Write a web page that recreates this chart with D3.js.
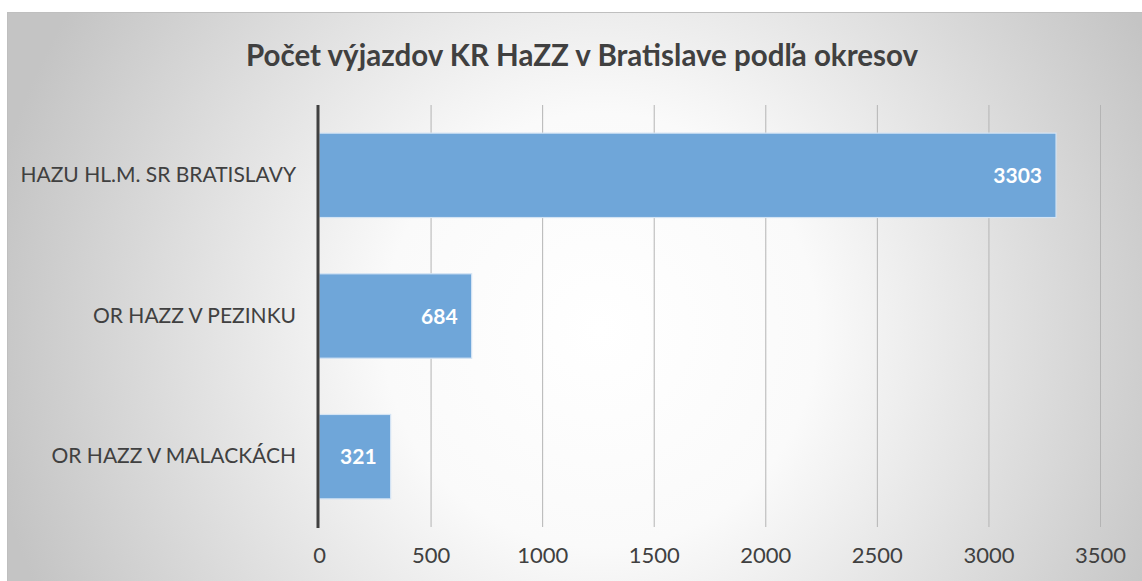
<!DOCTYPE html>
<html><head><meta charset="utf-8">
<script src="https://cdn.jsdelivr.net/npm/d3@7"></script>
<style>body{margin:0;background:#fff;}svg{display:block;}</style>
</head><body>
<svg id="c" width="1142" height="581"></svg>
<script>
const categories = ["HAZU HL.M. SR BRATISLAVY", "OR HAZZ V PEZINKU", "OR HAZZ V MALACKÁCH"];
const values = [3303, 684, 321];
const ticks = [0, 500, 1000, 1500, 2000, 2500, 3000, 3500];
const title = "Počet výjazdov KR HaZZ v Bratislave podľa okresov";

const svg = d3.select("#c");
const W = 1142, H = 581;
const font = "Lato, 'Open Sans', sans-serif";

const defs = svg.append("defs");
const rg = defs.append("radialGradient").attr("id","bg")
  .attr("gradientUnits","userSpaceOnUse").attr("cx",600).attr("cy",330).attr("r",620);
rg.append("stop").attr("offset","0%").attr("stop-color","#ffffff");
rg.append("stop").attr("offset","35%").attr("stop-color","#fafafa");
rg.append("stop").attr("offset","100%").attr("stop-color","#c4c4c4");

svg.append("rect").attr("x",7.5).attr("y",12.5).attr("width",W).attr("height",H)
  .attr("fill","url(#bg)").attr("stroke","#bfbfbf").attr("stroke-width",1);

const x = d3.scaleLinear().domain([0,3500]).range([319,1100]);
const y = d3.scaleBand().domain(categories).range([105,527]).paddingInner(0.4).paddingOuter(0.2);

// gridlines
svg.append("g").selectAll("line").data(ticks.slice(1)).join("line")
  .attr("x1",d=>x(d)+0.5).attr("x2",d=>x(d)+0.5).attr("y1",105).attr("y2",527)
  .attr("stroke","#b4b4b4").attr("stroke-width",1);

// bars
svg.append("g").selectAll("rect").data(values).join("rect")
  .attr("x",x(0)).attr("y",(d,i)=>y(categories[i]))
  .attr("width",d=>x(d)-x(0)).attr("height",y.bandwidth())
  .attr("fill","#6fa6d9").attr("stroke","#d4e4f4").attr("stroke-width",1.2);

// data labels
svg.append("g").selectAll("text").data(values).join("text")
  .attr("x",d=>x(d)-14).attr("y",(d,i)=>y(categories[i])+y.bandwidth()/2)
  .attr("dy","0.36em").attr("text-anchor","end")
  .attr("fill","#ffffff").attr("font-family",font).attr("font-weight","bold").attr("font-size",21)
  .text(d=>d);

// axis line
svg.append("line").attr("x1",318).attr("x2",318).attr("y1",105).attr("y2",528)
  .attr("stroke","#404040").attr("stroke-width",3);

// x tick labels
const xa = d3.axisBottom(x).tickValues(ticks).tickFormat(d3.format("d")).tickSize(0).tickPadding(0);
const gx = svg.append("g").attr("transform","translate(0,547)").call(xa);
gx.select(".domain").remove();
gx.selectAll("text").attr("font-family",font).attr("font-size",22).attr("fill","#404040").attr("dy","0.71em");

// category labels
const ya = d3.axisLeft(y).tickSize(0).tickPadding(0);
const gy = svg.append("g").attr("transform","translate(296,0)").call(ya);
gy.select(".domain").remove();
gy.selectAll("text").attr("font-family",font).attr("font-size",21).attr("fill","#404040");

// title
svg.append("text").attr("x",582).attr("y",66).attr("text-anchor","middle")
  .attr("font-family",font).attr("font-weight","bold").attr("font-size",29.5).attr("fill","#404040")
  .text(title);
</script>
</body></html>
